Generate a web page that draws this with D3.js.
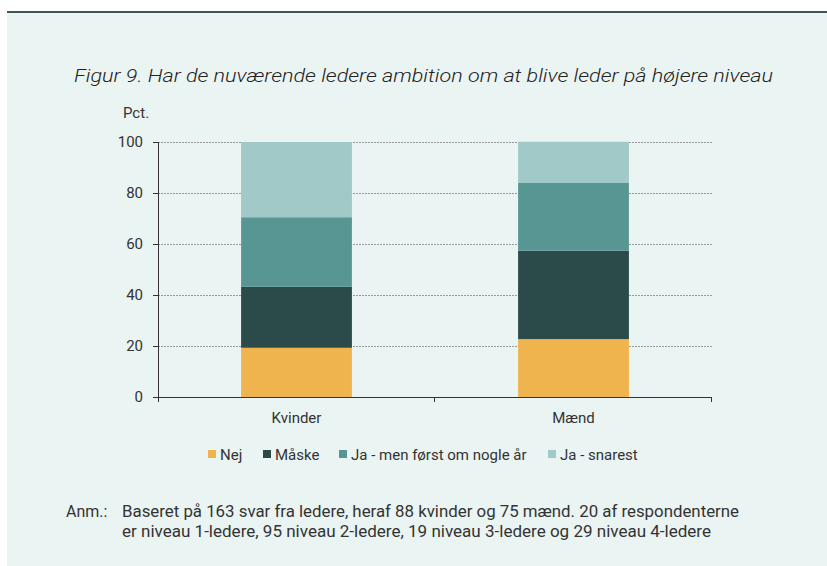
<!DOCTYPE html>
<html>
<head>
<meta charset="utf-8">
<title>Figur 9</title>
<style>
  body, html { margin: 0; padding: 0; background: #ffffff; }
  svg text { font-family: Roboto, "Noto Sans", sans-serif; fill: #333; }
</style>
</head>
<body>
<svg id="svg" width="827" height="566"></svg>
<script src="https://d3js.org/d3.v7.min.js"></script>
<script>
  // data (pct.)
  const categories = ['Kvinder', 'Mænd']
  const seriesNames = ['Nej', 'Måske', 'Ja - men først om nogle år', 'Ja - snarest']
  const nej = [19.3, 22.7]
  const maaske = [23.9, 34.7]
  const jaSenere = [27.3, 26.7]
  const jaSnarest = [29.5, 16.0]
  const yTicks = [0, 20, 40, 60, 80, 100]
  const colors = ['#f0b44e', '#2b4a4a', '#589693', '#a0c9c7']

  const title = 'Figur 9. Har de nuværende ledere ambition om at blive leder på højere niveau'
  const noteLines = [
    'Baseret på 163 svar fra ledere, heraf 88 kvinder og 75 mænd. 20 af respondenterne',
    'er niveau 1-ledere, 95 niveau 2-ledere, 19 niveau 3-ledere og 29 niveau 4-ledere'
  ]
  const noteWidths = [617, 589]

  const svg = d3.select('#svg')

  // panel + top rule
  svg.append('rect').attr('x', 7).attr('y', 12).attr('width', 820).attr('height', 554).attr('fill', '#eaf4f2')
  svg.append('rect').attr('x', 7).attr('y', 11).attr('width', 820).attr('height', 2).attr('fill', '#3b5654')

  svg.append('text')
    .attr('x', 74).attr('y', 82)
    .attr('textLength', 699).attr('lengthAdjust', 'spacingAndGlyphs')
    .style('font-size', '19px').style('font-style', 'italic').style('font-weight', 300)
    .style('fill', '#222')
    .text(title)

  const plotL = 158, plotR = 712, plotT = 142, plotB = 397

  const x = d3.scaleBand().domain(categories).range([plotL, plotR]).padding(0)
  const y = d3.scaleLinear().domain([0, 100]).range([plotB, plotT])

  // grid
  svg.append('g')
    .selectAll('line')
    .data(yTicks.filter(d => d > 0))
    .enter()
    .append('line')
    .attr('x1', plotL).attr('x2', plotR)
    .attr('y1', d => y(d) + 0.5).attr('y2', d => y(d) + 0.5)
    .attr('stroke', '#9a9a9a').attr('stroke-width', 1)
    .attr('stroke-dasharray', '2,1')

  // stacked bars
  const rows = categories.map((c, i) => ({
    cat: c, 0: nej[i], 1: maaske[i], 2: jaSenere[i], 3: jaSnarest[i]
  }))
  const stacked = d3.stack().keys([0, 1, 2, 3])(rows)
  const barW = x.bandwidth() * 0.4

  svg.append('g')
    .selectAll('g')
    .data(stacked)
    .enter()
    .append('g')
    .attr('fill', (d, i) => colors[i])
    .selectAll('rect')
    .data(d => d)
    .enter()
    .append('rect')
    .attr('x', d => x(d.data.cat) + (x.bandwidth() - barW) / 2)
    .attr('y', d => y(d[1]))
    .attr('width', barW)
    .attr('height', d => y(d[0]) - y(d[1]))

  // y axis
  const leftAxis = d3.axisLeft(y).tickValues(yTicks).tickSize(5).tickPadding(10)
  const gy = svg.append('g').attr('transform', `translate(${plotL}, 0)`).call(leftAxis)
  gy.select('.domain').attr('d', `M0.5,${plotT}V${plotB + 5}`).attr('stroke', '#333')
  gy.selectAll('.tick line').attr('stroke', '#333')
  gy.selectAll('.tick text').style('font-size', '15px').style('font-family', 'Roboto').attr('fill', '#333')

  // x axis, ticks at band edges
  const gx = svg.append('g').attr('transform', `translate(0, ${plotB})`)
  gx.append('line').attr('x1', plotL).attr('x2', plotR).attr('y1', 0.5).attr('y2', 0.5).attr('stroke', '#333')
  gx.selectAll('line.edge')
    .data(categories.map(c => x(c) + x.bandwidth()))
    .enter()
    .append('line')
    .attr('class', 'edge')
    .attr('x1', d => d - 0.5).attr('x2', d => d - 0.5)
    .attr('y1', 0).attr('y2', 5)
    .attr('stroke', '#333')
  gx.selectAll('text')
    .data(categories)
    .enter()
    .append('text')
    .attr('x', d => x(d) + x.bandwidth() / 2)
    .attr('y', 26)
    .attr('text-anchor', 'middle')
    .style('font-size', '15px')
    .text(d => d)

  svg.append('text').attr('x', 123).attr('y', 118).style('font-size', '15px').text('Pct.')

  // legend
  const legendX = [208, 263, 339, 548]
  const lg = svg.append('g')
    .selectAll('g')
    .data(seriesNames)
    .enter()
    .append('g')
    .attr('transform', (d, i) => `translate(${legendX[i]}, 450)`)
  lg.append('rect').attr('width', 8).attr('height', 8).attr('fill', (d, i) => colors[i])
  lg.append('text').attr('x', 12).attr('y', 9.5).style('font-size', '15px').text(d => d)

  // note
  svg.append('text').attr('x', 66).attr('y', 517).style('font-size', '16px').text('Anm.:')
  svg.append('g')
    .selectAll('text')
    .data(noteLines)
    .enter()
    .append('text')
    .attr('x', 122)
    .attr('y', (d, i) => 517 + i * 20)
    .attr('textLength', (d, i) => noteWidths[i])
    .attr('lengthAdjust', 'spacingAndGlyphs')
    .style('font-size', '16px')
    .text(d => d)
</script>
</body>
</html>
